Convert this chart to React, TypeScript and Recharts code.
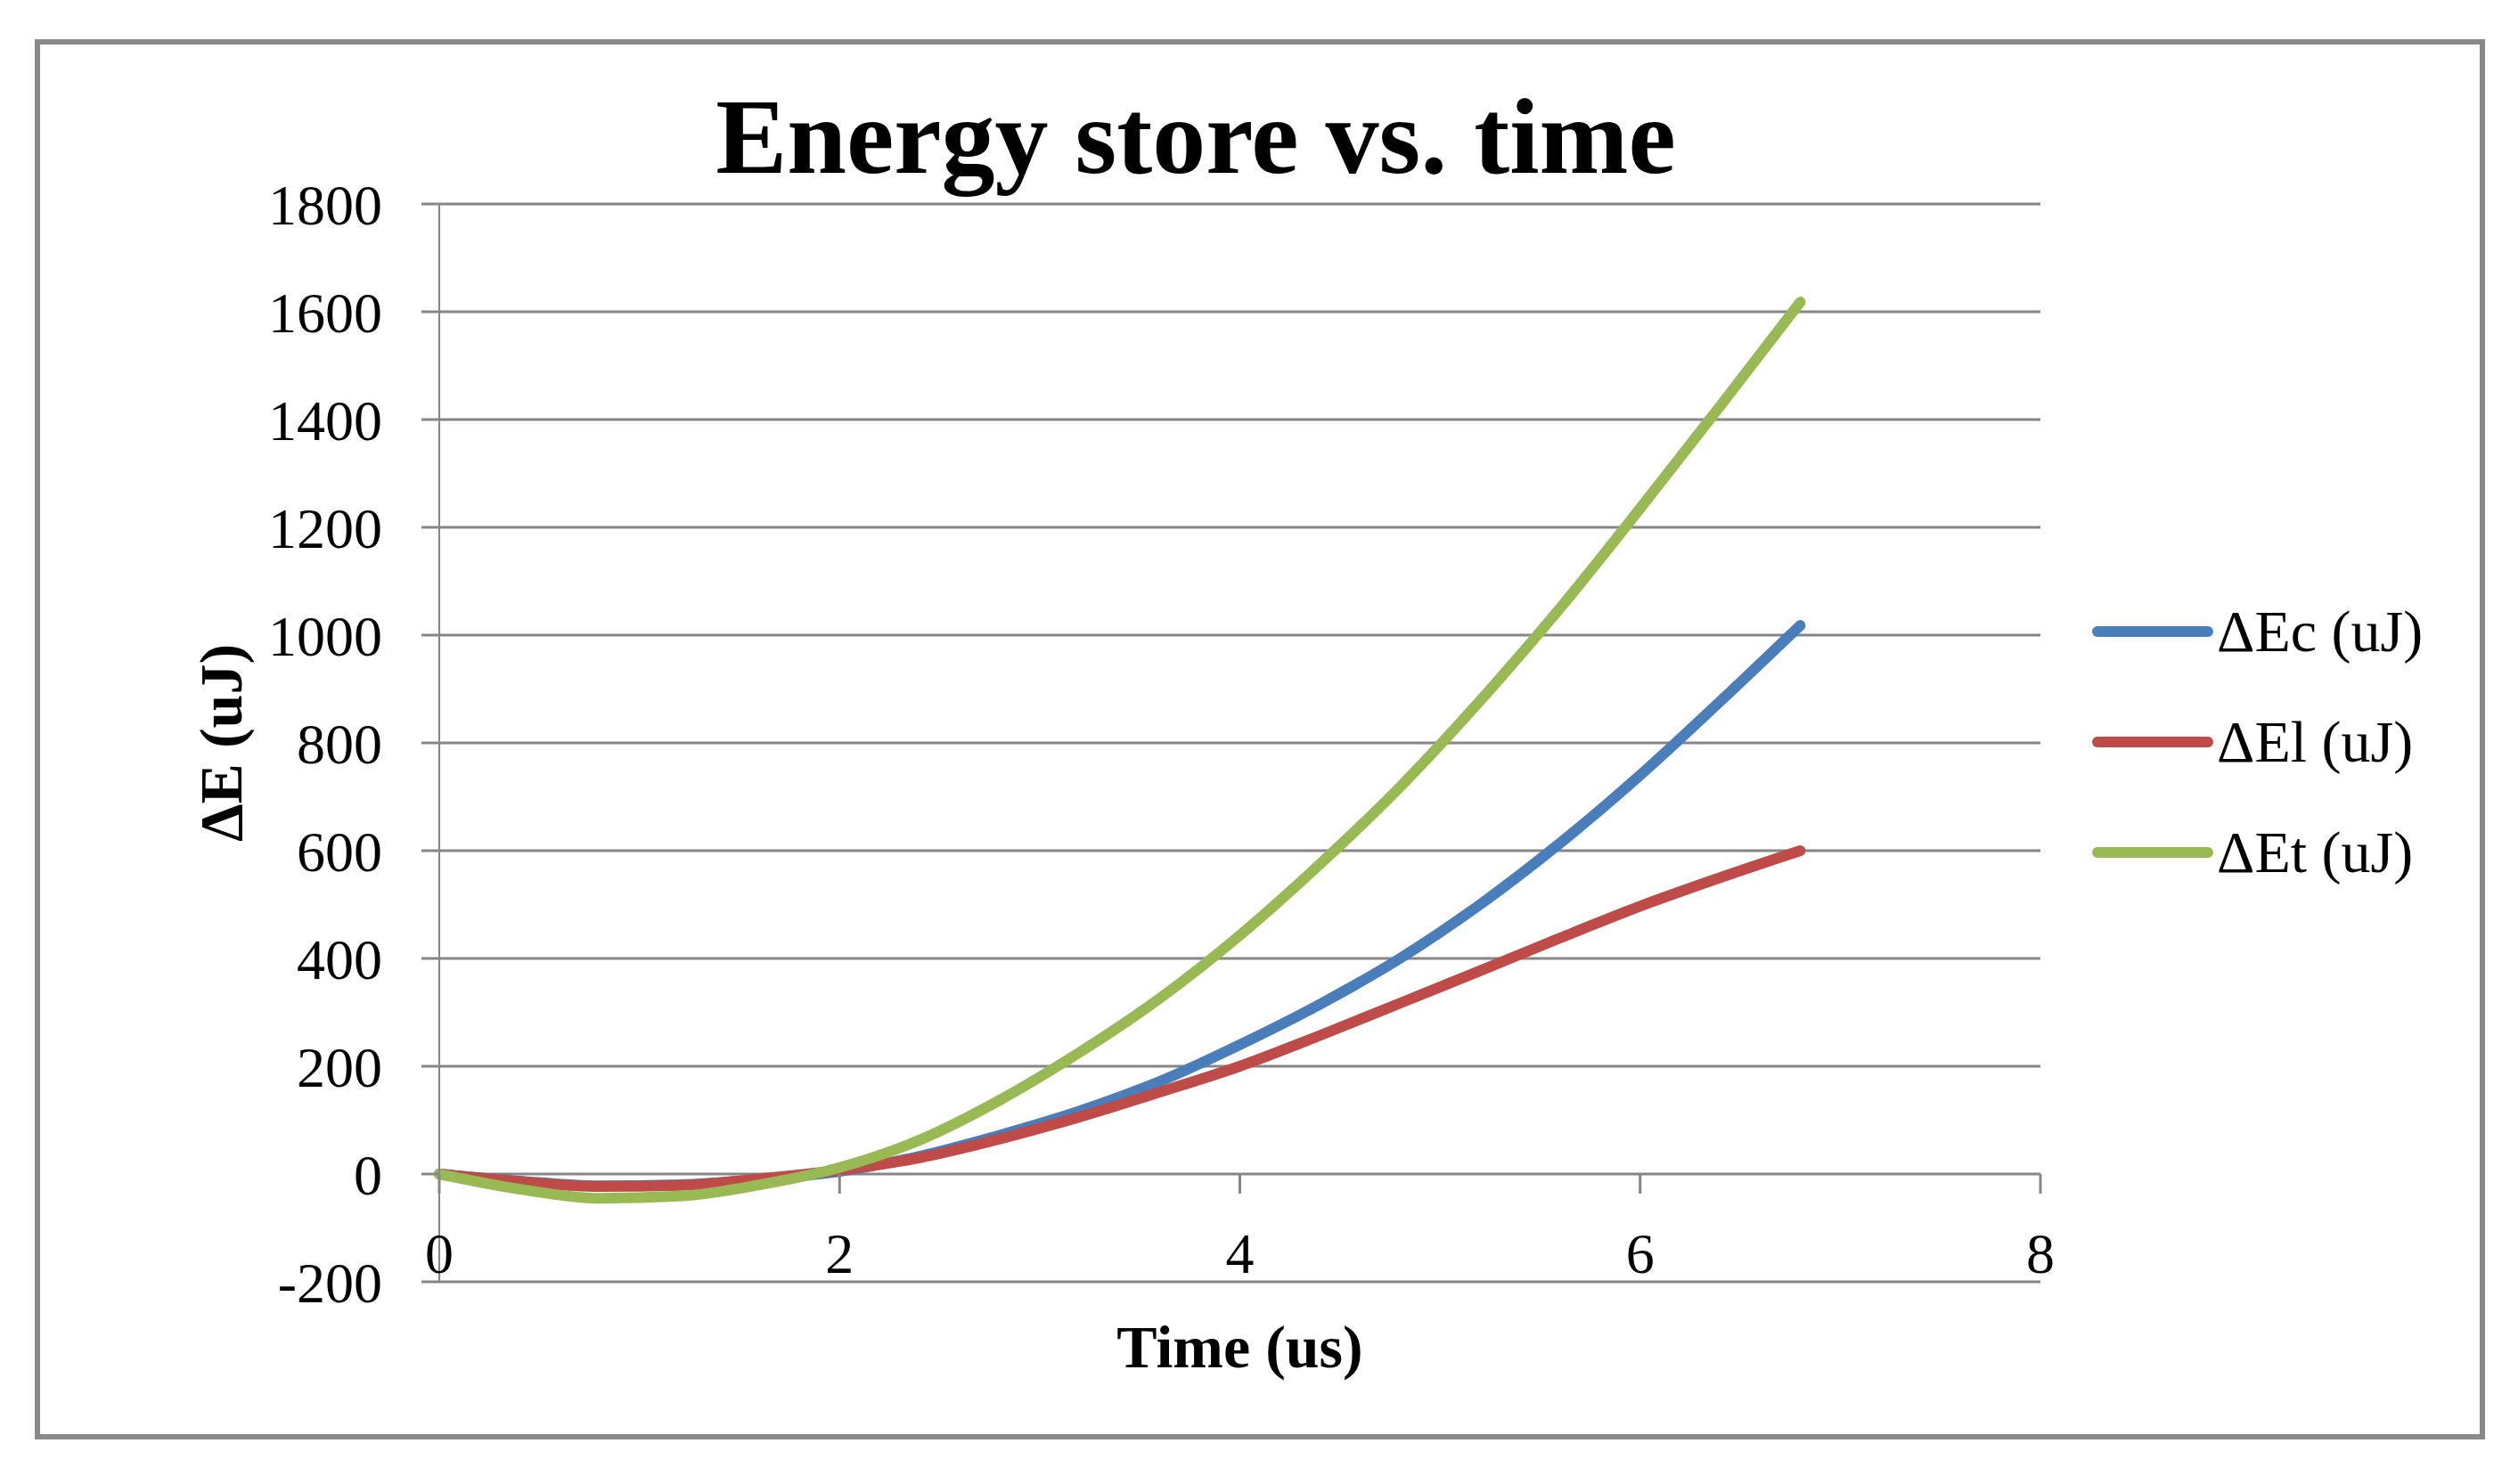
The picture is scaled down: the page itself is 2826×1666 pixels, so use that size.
import React from "react";
import {
  CartesianGrid,
  Legend,
  Line,
  LineChart,
  XAxis,
  YAxis,
} from "recharts";

// time (us)
const time = [0, 0.4, 0.8, 1.2, 1.6, 2.0, 2.4, 2.8, 3.2, 3.6, 4.0, 4.4, 4.8, 5.2, 5.6, 6.0, 6.4, 6.8];
// ΔEc (uJ)
const energyC = [0, -13, -22, -20, -10, 5, 33, 72, 117, 172, 240, 315, 400, 500, 614, 740, 877, 1018];
// ΔEl (uJ)
const energyL = [0, -14, -23, -21, -9, 7, 30, 65, 106, 152, 200, 257, 317, 377, 438, 497, 550, 600];
// ΔEt (uJ)
const energyT = [0, -28, -45, -41, -20, 12, 63, 137, 226, 326, 443, 575, 718, 878, 1050, 1235, 1425, 1618];

const xTicks = [0, 2, 4, 6, 8];
const yTicks = [-200, 0, 200, 400, 600, 800, 1000, 1200, 1400, 1600, 1800];

const series = [
  { key: "ec", name: "ΔEc (uJ)", color: "#4A7EBB" },
  { key: "el", name: "ΔEl (uJ)", color: "#BE4B48" },
  { key: "et", name: "ΔEt (uJ)", color: "#98B954" },
];

const data = time.map((t, i) => ({
  t,
  ec: energyC[i],
  el: energyL[i],
  et: energyT[i],
}));

const W = 2826;
const H = 1666;
const FONT = '"Liberation Serif", "Times New Roman", serif';
const GRID = "#868686";

const PLOT_TOP = 229;
const PLOT_BOTTOM = 1439;
const PLOT_LEFT = 493;
const PLOT_RIGHT = 2290;
const X_AXIS_H = 150;

const Y_MIN = -200;
const Y_MAX = 1800;
// distance from the bottom of the plot up to the y = 0 line
const ZERO_OFFSET = ((PLOT_BOTTOM - PLOT_TOP) * (0 - Y_MIN)) / (Y_MAX - Y_MIN);

// Excel draws the horizontal axis where y = 0, with labels under it
const XTick = (props: any) => {
  const { x, y, payload } = props;
  const zy = y - ZERO_OFFSET;
  return (
    <g>
      <line x1={x} x2={x} y1={zy} y2={zy + 22} stroke={GRID} strokeWidth={3} />
      <text
        x={x}
        y={zy + 89}
        textAnchor="middle"
        dominantBaseline="central"
        fontFamily={FONT}
        fontSize={64}
        fill="#000"
      >
        {payload.value}
      </text>
    </g>
  );
};

const LegendBox = () => (
  <div style={{ fontFamily: FONT, fontSize: 66, color: "#000" }}>
    {series.map((s) => (
      <div
        key={s.key}
        style={{ display: "flex", alignItems: "center", height: 124 }}
      >
        <svg width={136} height={20} style={{ display: "block" }}>
          <line
            x1={6}
            x2={130}
            y1={10}
            y2={10}
            stroke={s.color}
            strokeWidth={12}
            strokeLinecap="round"
          />
        </svg>
        <span style={{ marginLeft: 4, whiteSpace: "nowrap" }}>{s.name}</span>
      </div>
    ))}
  </div>
);

export default function App() {
  return (
    <div
      style={{
        margin: -8,
        width: W,
        height: H,
        position: "relative",
        background: "#fff",
        overflow: "hidden",
      }}
    >
      <div
        style={{
          position: "absolute",
          left: 39,
          top: 44,
          width: 2750,
          height: 1572,
          boxSizing: "border-box",
          border: "6px solid #898989",
        }}
      />
      <div
        style={{
          position: "absolute",
          left: 1342,
          top: 94,
          transform: "translateX(-50%)",
          whiteSpace: "nowrap",
          fontFamily: FONT,
          fontWeight: "bold",
          fontSize: 120,
          lineHeight: "120px",
          color: "#000",
        }}
      >
        Energy store vs. time
      </div>
      <div style={{ position: "absolute", left: 0, top: 0 }}>
        <LineChart
          width={W}
          height={H}
          data={data}
          margin={{
            top: PLOT_TOP,
            right: W - PLOT_RIGHT,
            left: 0,
            bottom: H - PLOT_BOTTOM - X_AXIS_H,
          }}
        >
          <CartesianGrid vertical={false} stroke={GRID} strokeWidth={3} />
          <XAxis
            dataKey="t"
            type="number"
            domain={[0, 8]}
            ticks={xTicks}
            interval={0}
            height={X_AXIS_H}
            axisLine={false}
            tickLine={false}
            tickSize={0}
            tickMargin={0}
            tick={<XTick />}
            label={{
              value: "Time (us)",
              position: "insideBottom",
              offset: 54,
              style: {
                fontFamily: FONT,
                fontWeight: "bold",
                fontSize: 68,
                fill: "#000",
              },
            }}
          />
          <YAxis
            width={PLOT_LEFT}
            domain={[Y_MIN, Y_MAX]}
            ticks={yTicks}
            interval={0}
            axisLine={{ stroke: GRID, strokeWidth: 2 }}
            tickLine={{ stroke: GRID, strokeWidth: 3 }}
            tickSize={20}
            tickMargin={44}
            tick={{ fontFamily: FONT, fontSize: 64, fill: "#000" }}
            label={{
              value: "ΔE (uJ)",
              angle: -90,
              position: "center",
              style: {
                fontFamily: FONT,
                fontWeight: "bold",
                fontSize: 68,
                fill: "#000",
                textAnchor: "middle",
              },
            }}
          />
          <Legend
            layout="vertical"
            align="center"
            verticalAlign="middle"
            content={<LegendBox />}
            wrapperStyle={{ left: 2348, top: 647, width: 440 }}
          />
          {series.map((s) => (
            <Line
              key={s.key}
              type="monotone"
              dataKey={s.key}
              name={s.name}
              stroke={s.color}
              strokeWidth={12}
              strokeLinecap="round"
              dot={false}
              activeDot={false}
              isAnimationActive={false}
            />
          ))}
        </LineChart>
      </div>
    </div>
  );
}
